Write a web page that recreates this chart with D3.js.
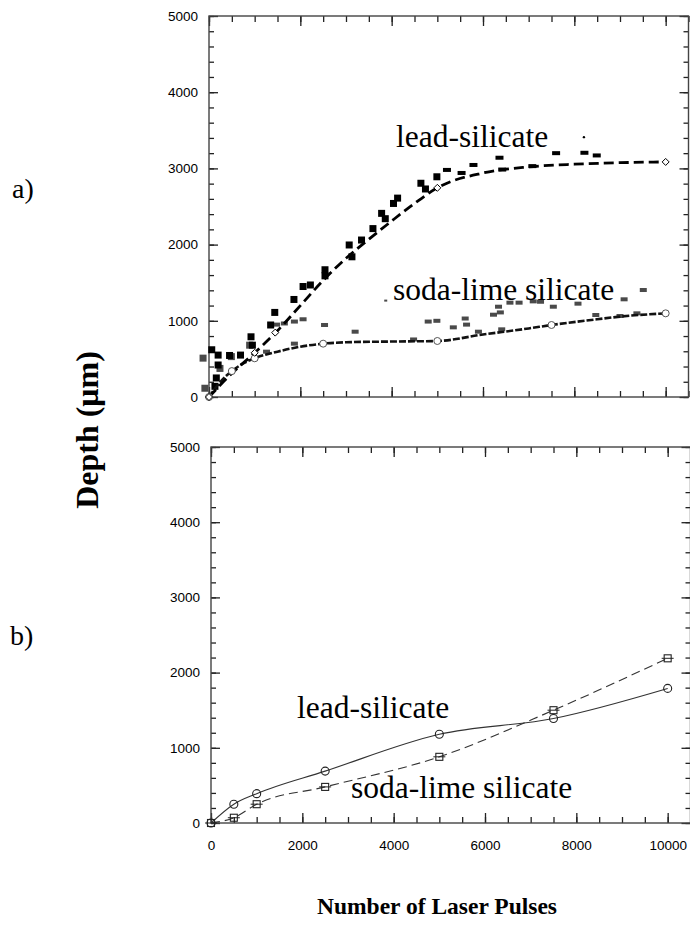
<!DOCTYPE html>
<html>
<head>
<meta charset="utf-8" />
<title>Depth vs Number of Laser Pulses</title>
<script src="https://d3js.org/d3.v7.min.js"></script>
<style>
  body { margin: 0; background: #fff; }
  .tick text { font-family: "Liberation Sans", Arial, sans-serif; font-size: 13.5px; fill: #000; }
</style>
</head>
<body>
<svg width="690" height="936"></svg>
<script>
// panel a) measured points [pulses, depth um]
const leadPoints = [
  [60, 620], [200, 550], [200, 420], [160, 250], [130, 140],
  [450, 545], [690, 550], [920, 790], [950, 680],
  [1350, 945], [1440, 1110], [1860, 1280], [2060, 1450], [2220, 1470],
  [2540, 1670], [2540, 1590], [3070, 1995], [3130, 1840], [3340, 2060],
  [3590, 2210], [3780, 2410], [3860, 2340], [4040, 2540], [4130, 2610],
  [4640, 2805], [4740, 2730], [4990, 2890], [5200, 2980], [5520, 2940],
  [5780, 3045], [6350, 3140], [6410, 2985], [7070, 3030], [7590, 3200],
  [8210, 3205], [8480, 3170]
];
const leadDots = [[8210, 3410]];
const sodaPoints = [
  [-130, 510], [-90, 115], [240, 375], [490, 530], [890, 680], [1260, 595],
  [1480, 950], [1650, 965], [1870, 990], [2060, 1020], [1870, 700], [2530, 945],
  [3200, 857], [4480, 755], [4800, 990], [4990, 1000],
  [5350, 914], [5610, 1030], [5640, 950], [5900, 857], [6230, 1080], [6380, 1110],
  [6340, 1185], [6410, 888], [6590, 1238], [6790, 1238], [7100, 1255], [7260, 1250],
  [7540, 1185], [8080, 1225], [8470, 1076], [9000, 1063], [9370, 1098],
  [9090, 1282], [9510, 1404]
];
const sodaDots = [[3870, 1265]];

// panel a) fitted curves
const leadFit = [
  [0, 0], [500, 310], [1000, 580], [1500, 870], [2000, 1200], [2500, 1530],
  [3000, 1820], [3500, 2070], [4000, 2310], [4500, 2540], [5000, 2745],
  [6000, 2940], [7000, 3020], [8000, 3055], [9000, 3075], [10000, 3085]
];
const leadFitMarks = [[0, 0], [1000, 580], [1450, 845], [5000, 2745], [10000, 3085]];
const sodaFit = [
  [0, 0], [250, 200], [500, 340], [750, 440], [1000, 508], [1500, 595],
  [2000, 660], [2500, 700], [3000, 718], [4000, 728], [5000, 735],
  [6000, 820], [7000, 900], [7500, 945], [8500, 1020], [9000, 1055], [10000, 1098]
];
const sodaFitMarks = [[0, 0], [500, 340], [1000, 508], [2500, 700], [5000, 735], [7500, 945], [10000, 1098]];

// panel b)
const pulsesB = [0, 500, 1000, 2500, 5000, 7500, 10000];
const leadB = [0, 250, 390, 690, 1180, 1390, 1790];
const sodaB = [0, 70, 250, 480, 880, 1500, 2190];

const xTicks = [0, 2000, 4000, 6000, 8000, 10000];
const yTicks = [0, 1000, 2000, 3000, 4000, 5000];
const xMinor = d3.range(0, 10501, 500);
const yMinor = d3.range(0, 5001, 200);

const svg = d3.select("svg");
const serif = "'Liberation Serif', 'Times New Roman', serif";

function panel(box, showX) {
  const x = d3.scaleLinear().domain([0, 10500]).range([box.left, box.right]);
  const y = d3.scaleLinear().domain([0, 5000]).range([box.bottom, box.top]);
  const g = svg.append("g");

  const noDomain = sel => sel.select(".domain").remove();
  const tickStyle = sel => sel.selectAll("line").attr("stroke", "#222").attr("stroke-width", 1.3);

  // minor ticks, all four sides
  g.append("g").attr("transform", `translate(0,${box.bottom})`)
    .call(d3.axisBottom(x).tickValues(xMinor).tickSize(-6).tickFormat(""))
    .call(noDomain).call(tickStyle);
  g.append("g").attr("transform", `translate(0,${box.top})`)
    .call(d3.axisTop(x).tickValues(xMinor).tickSize(-6).tickFormat(""))
    .call(noDomain).call(tickStyle);
  g.append("g").attr("transform", `translate(${box.left},0)`)
    .call(d3.axisLeft(y).tickValues(yMinor).tickSize(-5).tickFormat(""))
    .call(noDomain).call(tickStyle);
  g.append("g").attr("transform", `translate(${box.right},0)`)
    .call(d3.axisRight(y).tickValues(yMinor).tickSize(-5).tickFormat(""))
    .call(noDomain).call(tickStyle);

  // major ticks
  g.append("g").attr("transform", `translate(0,${box.bottom})`)
    .call(d3.axisBottom(x).tickValues(xTicks).tickSize(-10).tickPadding(17)
      .tickFormat(showX ? d3.format("d") : ""))
    .call(noDomain).call(tickStyle);
  g.append("g").attr("transform", `translate(0,${box.top})`)
    .call(d3.axisTop(x).tickValues(xTicks).tickSize(-10).tickFormat(""))
    .call(noDomain).call(tickStyle);
  g.append("g").attr("transform", `translate(${box.left},0)`)
    .call(d3.axisLeft(y).tickValues(yTicks).tickSize(-9).tickPadding(11).tickFormat(d3.format("d")))
    .call(noDomain).call(tickStyle);
  g.append("g").attr("transform", `translate(${box.right},0)`)
    .call(d3.axisRight(y).tickValues(yTicks).tickSize(-9).tickFormat(""))
    .call(noDomain).call(tickStyle);

  g.append("rect")
    .attr("x", box.left).attr("y", box.top)
    .attr("width", box.right - box.left).attr("height", box.bottom - box.top)
    .attr("fill", "none").attr("stroke", "#444").attr("stroke-width", 1.4);

  return { g, x, y };
}

// ---- panel a)
const a = panel({ left: 209, right: 688.5, top: 16, bottom: 397 }, false);

a.g.selectAll(".sodaPt").data(sodaPoints).join("rect")
  .attr("x", d => a.x(d[0]) - 3.5)
  .attr("y", d => a.y(d[1]) - (d[0] < 1000 ? 3.5 : 2))
  .attr("width", 7).attr("height", d => d[0] < 1000 ? 7 : 4)
  .attr("fill", "#4a4a4a");
a.g.selectAll(".sodaDot").data(sodaDots).join("rect")
  .attr("x", d => a.x(d[0]) - 1.5).attr("y", d => a.y(d[1]) - 1)
  .attr("width", 3).attr("height", 2).attr("fill", "#4a4a4a");

a.g.selectAll(".leadPt").data(leadPoints).join("rect")
  .attr("x", d => a.x(d[0]) - 3.5)
  .attr("y", d => a.y(d[1]) - (d[0] < 5000 ? 3.5 : 2))
  .attr("width", d => d[0] < 5000 ? 7 : 8).attr("height", d => d[0] < 5000 ? 7 : 4)
  .attr("fill", "#000");
a.g.selectAll(".leadDot").data(leadDots).join("circle")
  .attr("cx", d => a.x(d[0])).attr("cy", d => a.y(d[1])).attr("r", 1.2).attr("fill", "#000");

const lineA = d3.line().x(d => a.x(d[0])).y(d => a.y(d[1])).curve(d3.curveMonotoneX);
a.g.append("path").attr("d", lineA(sodaFit))
  .attr("fill", "none").attr("stroke", "#111").attr("stroke-width", 2.6)
  .attr("stroke-dasharray", "7,2");
a.g.append("path").attr("d", lineA(leadFit))
  .attr("fill", "none").attr("stroke", "#000").attr("stroke-width", 2.8)
  .attr("stroke-dasharray", "10,5");

a.g.selectAll(".sodaMark").data(sodaFitMarks).join("circle")
  .attr("cx", d => a.x(d[0])).attr("cy", d => a.y(d[1])).attr("r", 3.5)
  .attr("fill", "#fff").attr("stroke", "#555").attr("stroke-width", 1);
a.g.selectAll(".leadMark").data(leadFitMarks).join("path")
  .attr("transform", d => `translate(${a.x(d[0])},${a.y(d[1])})`)
  .attr("d", "M0,-3.5L3.5,0L0,3.5L-3.5,0Z")
  .attr("fill", "#fff").attr("stroke", "#000").attr("stroke-width", 1);

// ---- panel b)
const b = panel({ left: 211, right: 690.5, top: 447, bottom: 823 }, true);
const lineB = d3.line().x((d, i) => b.x(pulsesB[i])).y(d => b.y(d)).curve(d3.curveMonotoneX);

b.g.append("path").attr("d", lineB(leadB))
  .attr("fill", "none").attr("stroke", "#333").attr("stroke-width", 1.1);
b.g.append("path").attr("d", lineB(sodaB))
  .attr("fill", "none").attr("stroke", "#333").attr("stroke-width", 1.1)
  .attr("stroke-dasharray", "9,5");

b.g.selectAll(".leadB").data(leadB).join("circle")
  .attr("cx", (d, i) => b.x(pulsesB[i])).attr("cy", d => b.y(d)).attr("r", 4)
  .attr("fill", "none").attr("stroke", "#222").attr("stroke-width", 1.1);
const sq = b.g.selectAll(".sodaB").data(sodaB).join("g")
  .attr("transform", (d, i) => `translate(${b.x(pulsesB[i])},${b.y(d)})`);
sq.append("rect").attr("x", -3.5).attr("y", -3.5).attr("width", 7).attr("height", 7)
  .attr("fill", "none").attr("stroke", "#222").attr("stroke-width", 1.1);
sq.append("line").attr("x1", -6).attr("x2", 6)
  .attr("stroke", "#222").attr("stroke-width", 1);

// ---- texts
const label = (t, x, y, size, opts = {}) => svg.append("text")
  .attr("x", x).attr("y", y).text(t)
  .attr("font-family", serif).attr("font-size", size)
  .attr("font-weight", opts.bold ? "bold" : "normal")
  .attr("text-anchor", opts.anchor || "start")
  .attr("transform", opts.rotate ? `rotate(-90,${x},${y})` : null);

label("lead-silicate", 396, 147, 31.5);
label("soda-lime silicate", 393, 300, 31.5);
label("lead-silicate", 297, 718, 31.5);
label("soda-lime silicate", 351, 798, 31.5);
label("a)", 12, 198, 28);
label("b)", 10, 645, 28);
label("Depth (\u03bcm)", 98, 430, 32, { bold: true, anchor: "middle", rotate: true });
label("Number of Laser Pulses", 437, 914, 23.5, { bold: true, anchor: "middle" });
</script>
</body>
</html>
